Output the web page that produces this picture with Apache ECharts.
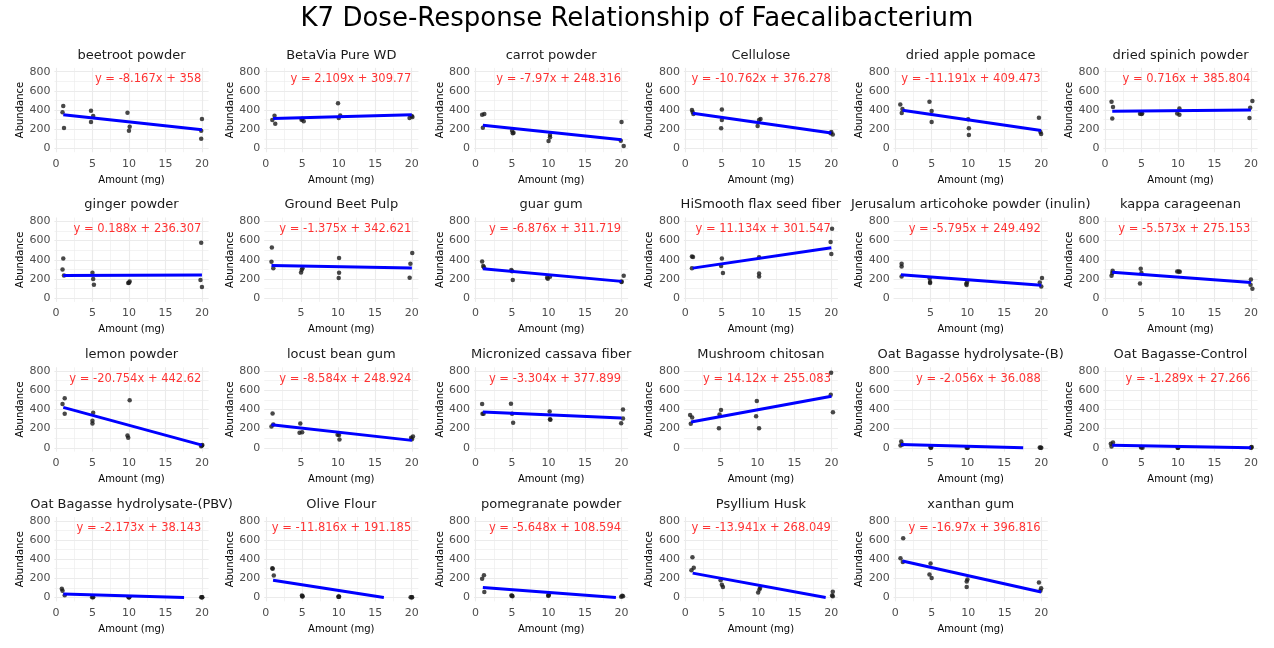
<!DOCTYPE html>
<html>
<head>
<meta charset="utf-8">
<script src="https://cdn.jsdelivr.net/npm/echarts@6/dist/echarts.min.js"></script>
<style>
html,body{margin:0;padding:0;background:#fff;}
#chart{width:1274px;height:648px;}
</style>
</head>
<body>
<div id="chart"></div>
<script>
// facet order, row by row
const panelNames = [
    'beetroot powder', 'BetaVia Pure WD', 'carrot powder', 'Cellulose', 'dried apple pomace', 'dried spinich powder',
    'ginger powder', 'Ground Beet Pulp', 'guar gum', 'HiSmooth flax seed fiber', 'Jerusalum articohoke powder (inulin)', 'kappa carageenan',
    'lemon powder', 'locust bean gum', 'Micronized cassava fiber', 'Mushroom chitosan', 'Oat Bagasse hydrolysate-(B)', 'Oat Bagasse-Control',
    'Oat Bagasse hydrolysate-(PBV)', 'Olive Flour', 'pomegranate powder', 'Psyllium Husk', 'xanthan gum'
];

// lm coefficients printed in each panel
const slopes = [-8.167, 2.109, -7.97, -10.762, -11.191, 0.716, 0.188, -1.375, -6.876, 11.134, -5.795, -5.573,
    -20.754, -8.584, -3.304, 14.12, -2.056, -1.289, -2.173, -11.816, -5.648, -13.941, -16.97];
const intercepts = [358, 309.77, 248.316, 376.278, 409.473, 385.804, 236.307, 342.621, 311.719, 301.547, 249.492, 275.153,
    442.62, 248.924, 377.899, 255.083, 36.088, 27.266, 38.143, 191.185, 108.594, 268.049, 396.816];

// jittered amounts (mg)
const amounts = [
    [1.0, 0.9, 1.1, 4.8, 4.8, 5.1, 9.8, 10.1, 10.0, 20.0, 19.9, 19.9],
    [1.2, 0.9, 1.3, 5.0, 5.2, 4.9, 9.9, 10.2, 10.0, 20.0, 19.7, 20.1],
    [0.9, 1.2, 1.0, 5.0, 5.1, 5.2, 10.0, 10.2, 10.2, 20.0, 19.9, 20.3],
    [0.9, 1.0, 1.1, 5.0, 5.0, 4.9, 9.9, 10.1, 10.3, 19.9, 20.0, 20.2],
    [0.7, 1.0, 0.9, 4.7, 5.0, 5.0, 10.0, 10.1, 10.1, 19.7, 19.9, 20.0],
    [0.9, 1.1, 1.0, 4.8, 5.1, 5.0, 9.9, 10.2, 10.2, 20.2, 19.9, 19.8],
    [1.0, 0.9, 1.1, 5.0, 5.1, 5.2, 9.9, 10.1, 10.0, 19.9, 19.8, 20.0],
    [1.05, 1.0, 1.25, 5.0, 5.1, 5.2, 10.15, 10.15, 10.1, 20.05, 19.8, 19.7],
    [0.9, 1.05, 1.15, 4.9, 5.1, 5.0, 9.8, 9.9, 10.2, 20.3, 20.0, 20.0],
    [0.9, 1.05, 0.9, 5.0, 4.9, 5.15, 10.1, 10.1, 10.1, 20.1, 19.9, 20.0],
    [1.1, 1.1, 1.1, 4.9, 4.95, 4.95, 9.85, 9.9, 9.97, 20.1, 19.8, 20.0],
    [0.9, 1.05, 1.0, 4.9, 4.8, 5.0, 9.9, 10.1, 10.25, 20.0, 19.95, 20.2],
    [0.9, 1.2, 1.2, 5.1, 5.0, 5.0, 10.1, 9.8, 9.9, 20.0, 20.05, 19.9],
    [1.15, 1.0, 1.25, 4.9, 4.8, 5.15, 9.95, 10.15, 10.2, 20.15, 19.9, 20.0],
    [0.9, 0.95, 1.1, 4.85, 5.0, 5.15, 10.15, 10.2, 10.25, 20.2, 20.2, 19.95],
    [0.87, 1.15, 0.96, 5.05, 4.85, 4.77, 9.9, 9.8, 10.2, 19.95, 19.9, 20.2],
    [1.05, 0.95, 1.2, 5.05, 5.0, 5.1, 9.9, 10.0, 10.05, 19.8, 19.9, 20.0],
    [0.8, 1.1, 0.9, 5.0, 5.15, 4.95, 10.0, 10.05, 9.95, 20.1, 20.0, 20.05],
    [0.8, 0.9, 1.2, 5.05, 5.1, 4.95, 10.0, 10.05, 9.95, 19.9, 20.05, 20.0],
    [0.9, 1.1, 0.95, 4.95, 5.05, 5.0, 10.0, 9.95, 10.05, 19.85, 20.05, 20.0],
    [0.9, 1.15, 1.2, 4.9, 5.05, 5.0, 10.0, 10.05, 9.95, 20.1, 19.95, 20.2],
    [0.97, 1.15, 0.83, 4.83, 5.0, 5.15, 9.97, 10.15, 10.25, 20.2, 20.1, 20.2],
    [0.73, 1.1, 1.05, 4.85, 4.7, 5.0, 9.9, 9.8, 9.8, 19.7, 20.0, 19.9]
];

const abundance = [
    [442, 376, 212, 393, 275, 337, 372, 226, 184, 306, 184, 101],
    [341, 296, 257, 310, 282, 300, 470, 344, 316, 337, 316, 327],
    [351, 358, 216, 184, 157, 163, 77, 115, 139, 275, 80, 24],
    [400, 379, 358, 407, 296, 209, 233, 296, 306, 157, 170, 146],
    [459, 410, 369, 487, 390, 275, 303, 209, 139, 320, 170, 150],
    [487, 431, 313, 362, 365, 358, 365, 417, 351, 494, 424, 317],
    [414, 299, 236, 264, 198, 139, 157, 174, 160, 577, 188, 115],
    [529, 379, 310, 268, 296, 310, 417, 264, 209, 470, 358, 212],
    [383, 334, 323, 292, 188, 280, 212, 202, 223, 233, 174, 167],
    [435, 428, 310, 414, 334, 261, 257, 226, 425, 723, 584, 459],
    [358, 330, 226, 205, 167, 157, 150, 136, 167, 209, 163, 122],
    [233, 285, 261, 306, 153, 261, 278, 278, 275, 195, 139, 97],
    [456, 518, 355, 365, 282, 254, 497, 129, 104, 24, 28, 17],
    [358, 223, 243, 254, 157, 163, 136, 132, 87, 118, 104, 90],
    [456, 355, 355, 459, 355, 261, 379, 299, 292, 400, 306, 257],
    [341, 316, 250, 393, 348, 205, 487, 330, 205, 783, 553, 372],
    [66, 24, 35, 0, 7, 2, 0, 3, 1, 3, 0, 1],
    [42, 56, 14, 7, 0, 3, 0, 2, 1, 7, 0, 2],
    [90, 70, 24, 7, 3, 1, 3, 1, 2, 3, 1, 2],
    [306, 230, 300, 21, 14, 10, 10, 7, 8, 3, 3, 2],
    [195, 233, 56, 21, 14, 18, 21, 28, 18, 17, 7, 14],
    [421, 310, 285, 181, 132, 108, 52, 83, 101, 59, 21, 14],
    [410, 619, 369, 355, 240, 202, 188, 167, 108, 157, 97, 70]
];

// free x scales: a few panels start just above 0
const xStart = [-0.2, -0.2, -0.2, -0.2, -0.2, -0.2, -0.2, 0.03, -0.2, -0.2, 0.03, -0.2,
    -0.2, 0.03, -0.2, 0.03, 0.03, -0.2, -0.2, -0.2, -0.2, -0.2, -0.2];
const xEnd = [20.9, 20.9, 20.9, 20.9, 20.9, 20.9, 20.9, 20.87, 20.9, 20.9, 20.87, 20.9,
    20.9, 20.87, 20.9, 20.87, 20.87, 20.9, 20.9, 20.9, 20.9, 20.9, 20.9];
const yRange = [-40, 840];
const doseRange = [1, 20];
const labelAt = [20, 720];

const font = 'DejaVu Sans';
const colLeft = 54.5, colStep = 209.8, panelW = 154;
const rowTop = 67.9, rowStep = 149.7, panelH = 84.3;

/*
 * regression line, the part under 0 is dropped like ggplot's limits do
 */
function fitLine(i){
    const m = slopes[i], b = intercepts[i];
    const x0 = doseRange[0];
    let x1 = doseRange[1];
    if(m * x1 + b < 0){
        x1 = -b / m;
    };
    return [[x0, m * x0 + b], [x1, m * x1 + b]];
}

function gridAxis(type, i, step, minor){
    const isX = type === 'x';
    const axis = {
        type:'value',
        gridIndex:i,
        position:isX ? 'bottom' : 'left',
        min:isX ? xStart[i] : yRange[0],
        max:isX ? xEnd[i] : yRange[1],
        minInterval:step,
        maxInterval:step,
        axisLine:{show:false},
        axisTick:{show:false},
        splitLine:{
            show:true,
            showMinLine:false,
            showMaxLine:false,
            lineStyle:{color:'#ebebeb', width:minor ? 0.6 : 1.1}
        }
    };
    if(minor){
        axis.axisLabel = {show:false};
    }else{
        axis.axisLabel = {
            fontFamily:font,
            fontSize:11,
            color:'#4d4d4d',
            margin:isX ? 6 : 4,
            showMinLabel:false,
            showMaxLabel:false
        };
        axis.name = isX ? 'Amount (mg)' : 'Abundance';
        axis.nameLocation = 'middle';
        axis.nameGap = isX ? 23 : 29;
        axis.nameTextStyle = {fontFamily:font, fontSize:10, color:'#000'};
    };
    return axis;
}

const option = {
    animation:false,
    backgroundColor:'#fff',
    textStyle:{fontFamily:font},
    title:[{
        text:'K7 Dose-Response Relationship of Faecalibacterium',
        left:'center',
        top:6,
        padding:0,
        textStyle:{fontFamily:font, fontSize:26, fontWeight:'normal', color:'#000'}
    }],
    grid:[],
    xAxis:[],
    yAxis:[],
    series:[]
};

panelNames.forEach((name, i) => {
    const r = Math.floor(i / 6), c = i % 6;
    const left = colLeft + c * colStep;
    const top = rowTop + r * rowStep;

    option.grid.push({left:left, top:top, width:panelW, height:panelH});
    option.title.push({
        text:name,
        left:left + panelW / 2,
        top:top - 19,
        textAlign:'center',
        padding:0,
        textStyle:{fontFamily:font, fontSize:13, fontWeight:'normal', color:'#1a1a1a'}
    });

    // minor grid first, major axis carries the labels and the data
    option.xAxis.push(gridAxis('x', i, 2.5, true));
    option.xAxis.push(gridAxis('x', i, 5, false));
    option.yAxis.push(gridAxis('y', i, 100, true));
    option.yAxis.push(gridAxis('y', i, 200, false));
    const xi = option.xAxis.length - 1, yi = option.yAxis.length - 1;

    option.series.push({
        type:'scatter',
        xAxisIndex:xi,
        yAxisIndex:yi,
        data:amounts[i].map((x, k) => [x, abundance[i][k]]),
        symbolSize:4.5,
        itemStyle:{color:'#1a1a1a', opacity:0.8},
        silent:true,
        z:2
    });
    option.series.push({
        type:'line',
        xAxisIndex:xi,
        yAxisIndex:yi,
        data:fitLine(i),
        symbol:'none',
        lineStyle:{color:'#0000ff', width:3},
        silent:true,
        z:3
    });
    option.series.push({
        type:'scatter',
        xAxisIndex:xi,
        yAxisIndex:yi,
        data:[labelAt],
        symbolSize:1,
        itemStyle:{color:'rgba(0,0,0,0)'},
        label:{
            show:true,
            position:'left',
            distance:0,
            formatter:'y = ' + slopes[i] + 'x + ' + intercepts[i],
            fontFamily:font,
            fontSize:11.5,
            color:'#ff0000'
        },
        silent:true,
        z:4
    });
});

const myChart = echarts.init(document.getElementById('chart'));
myChart.setOption(option);
</script>
</body>
</html>
